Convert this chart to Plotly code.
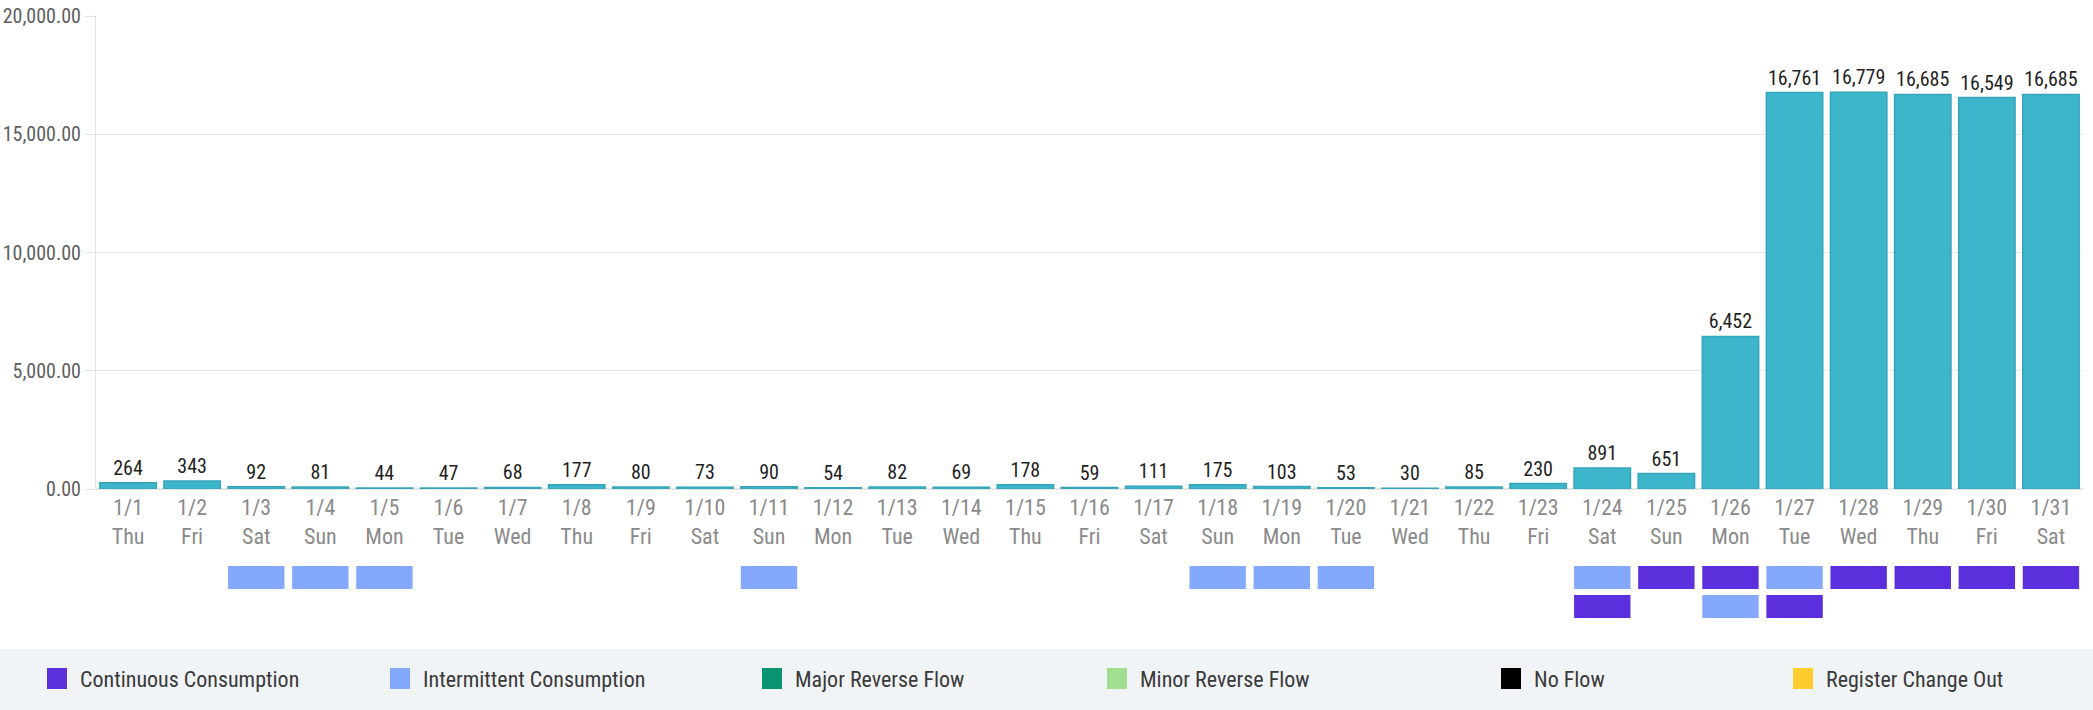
import plotly.graph_objects as go

# ---- data -----------------------------------------------------------------
dates = ["1/1", "1/2", "1/3", "1/4", "1/5", "1/6", "1/7", "1/8", "1/9", "1/10",
         "1/11", "1/12", "1/13", "1/14", "1/15", "1/16", "1/17", "1/18", "1/19",
         "1/20", "1/21", "1/22", "1/23", "1/24", "1/25", "1/26", "1/27", "1/28",
         "1/29", "1/30", "1/31"]
weekdays = ["Thu", "Fri", "Sat", "Sun", "Mon", "Tue", "Wed", "Thu", "Fri", "Sat",
            "Sun", "Mon", "Tue", "Wed", "Thu", "Fri", "Sat", "Sun", "Mon",
            "Tue", "Wed", "Thu", "Fri", "Sat", "Sun", "Mon", "Tue", "Wed",
            "Thu", "Fri", "Sat"]
usage = [264, 343, 92, 81, 44, 47, 68, 177, 80, 73, 90, 54, 82, 69, 178, 59,
         111, 175, 103, 53, 30, 85, 230, 891, 651, 6452, 16761, 16779, 16685,
         16549, 16685]

# event flags: (date, row) - row 0 is the upper strip, row 1 the lower one
continuous_dates = ["1/25", "1/26", "1/28", "1/29", "1/30", "1/31", "1/24", "1/27"]
continuous_rows = [0, 0, 0, 0, 0, 0, 1, 1]
intermittent_dates = ["1/3", "1/4", "1/5", "1/11", "1/18", "1/19", "1/20",
                      "1/24", "1/27", "1/26"]
intermittent_rows = [0, 0, 0, 0, 0, 0, 0, 0, 0, 1]

legend_names = ["Continuous Consumption", "Intermittent Consumption",
                "Major Reverse Flow", "Minor Reverse Flow", "No Flow",
                "Register Change Out"]
legend_colors = ["#5b2fdc", "#85a9fa", "#0b9372", "#a2de8f", "#000000", "#ffcc30"]
legend_x_px = [47, 390, 762, 1107, 1501, 1793]   # left edge of each swatch

y_ticks = [0, 5000, 10000, 15000, 20000]

# ---- geometry --------------------------------------------------------------
W, H = 2093, 710
M_L, M_R, M_T, M_B = 96, 10, 16, 0
plot_w = W - M_L - M_R
plot_h = H - M_T - M_B


def py(px):
    """pixel row -> paper y"""
    return (H - M_B - px) / plot_h


def px_x(px):
    """pixel column -> paper x"""
    return (px - M_L) / plot_w


FONT = "Liberation Sans Narrow, Roboto Condensed, Arial Narrow, sans-serif"
BAR = "#3db5cb"

fig = go.Figure()

fig.add_trace(go.Bar(
    x=dates, y=usage,
    marker=dict(color=BAR, line=dict(color="#35a6ba", width=1.5)),
    texttemplate="%{y:,}", textposition="outside",
    textfont=dict(family=FONT, size=20, color="#1f1f1f"),
    cliponaxis=False, showlegend=False,
    hovertemplate="%{x}: %{y:,}<extra></extra>",
))

fig.add_trace(go.Bar(
    x=continuous_dates, y=[0.8] * len(continuous_dates),
    base=[r + 0.1 for r in continuous_rows], yaxis="y2",
    marker=dict(color=legend_colors[0], line=dict(width=0)),
    name=legend_names[0], showlegend=False,
))
fig.add_trace(go.Bar(
    x=intermittent_dates, y=[0.8] * len(intermittent_dates),
    base=[r + 0.1 for r in intermittent_rows], yaxis="y2",
    marker=dict(color=legend_colors[1], line=dict(width=0)),
    name=legend_names[1], showlegend=False,
))

# legend band at the bottom
shapes = [dict(type="rect", xref="paper", yref="paper",
               x0=px_x(0), x1=px_x(W), y0=py(H), y1=py(650),
               fillcolor="#f1f4f7", line=dict(width=0), layer="below"),
          dict(type="line", xref="paper", yref="paper",
               x0=px_x(0), x1=px_x(W), y0=py(650), y1=py(650),
               line=dict(color="#e4e8ec", width=1))]
annotations = []
for name, col, lx in zip(legend_names, legend_colors, legend_x_px):
    shapes.append(dict(type="rect", xref="paper", yref="paper",
                       x0=px_x(lx), x1=px_x(lx + 20), y0=py(689), y1=py(668),
                       fillcolor=col, line=dict(width=0)))
    annotations.append(dict(x=px_x(lx + 31), y=py(679), xref="paper", yref="paper",
                            text=name, showarrow=False, xanchor="left",
                            yanchor="middle",
                            font=dict(family=FONT, size=22, color="#3a3a3a")))

fig.update_layout(
    width=W, height=H,
    margin=dict(l=M_L, r=M_R, t=M_T, b=M_B, autoexpand=False),
    paper_bgcolor="white", plot_bgcolor="white",
    barmode="overlay", bargap=0.12,
    font=dict(family=FONT, color="#666666"),
    xaxis=dict(
        type="category", tickmode="array", tickvals=dates,
        ticktext=[f"{d}<br>{w}" for d, w in zip(dates, weekdays)],
        tickfont=dict(family=FONT, size=22, color="#8a8a8a"),
        showgrid=False, showline=False, zeroline=False, ticks="",
        ticklabelstandoff=3,
        range=[-0.5, len(dates) - 0.5], automargin=False,
    ),
    yaxis=dict(
        domain=[py(489), 1], range=[0, 20000],
        tickmode="array", tickvals=y_ticks, tickformat=",.2f",
        tickfont=dict(family=FONT, size=20, color="#5e5e5e"),
        showgrid=True, gridcolor="#e6e6e6", gridwidth=1,
        zeroline=True, zerolinecolor="#e6e6e6",
        showline=True, linecolor="#e2e2e2",
        ticks="outside", ticklen=10, tickcolor="#e2e2e2",
        automargin=False,
    ),
    yaxis2=dict(
        domain=[py(621), py(563)], range=[2, 0],
        visible=False, showgrid=False, zeroline=False,
    ),
    shapes=shapes, annotations=annotations,
)

# drop the browser's default 8px body margin so the figure sits at (0, 0)
fig.write_html("out.html", config={"displayModeBar": False},
               post_script="document.body.style.margin='0';")
